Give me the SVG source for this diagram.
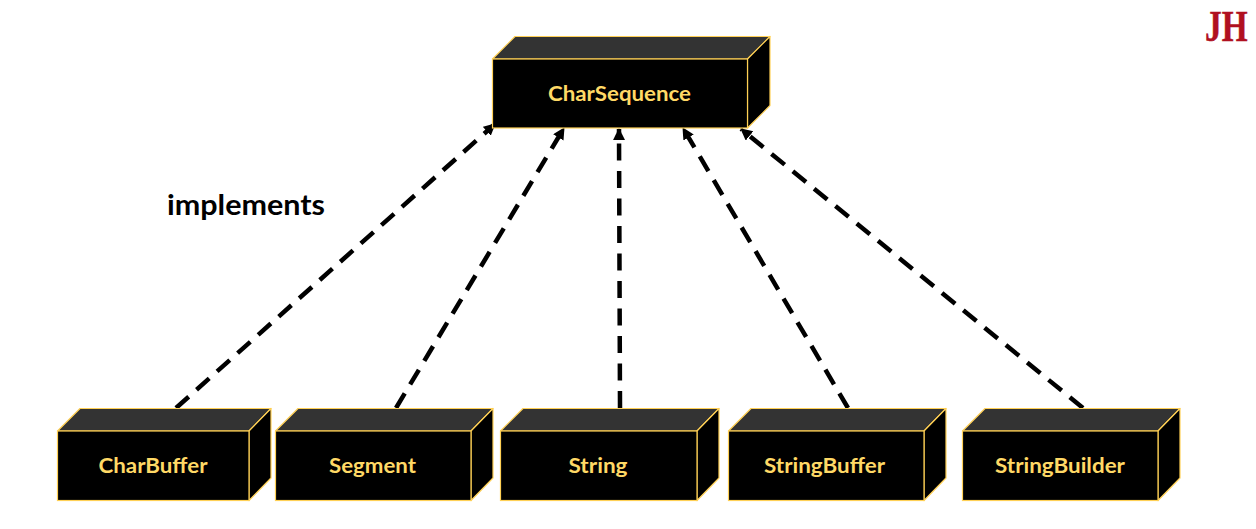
<svg xmlns="http://www.w3.org/2000/svg" width="1256" height="529" viewBox="0 0 1256 529">
<style>
.front{fill:#000;stroke:#ffd055;stroke-width:1.2}
.top{fill:#333;stroke:#ffd055;stroke-width:1.2;stroke-linejoin:round}
.side{fill:#000;stroke:#ffd055;stroke-width:1.2;stroke-linejoin:round}
.lbl{font-family:Lato,"Open Sans",sans-serif;font-weight:700;font-size:21px;fill:#ffd966;text-anchor:middle}
.conn{fill:none;stroke:#000;stroke-width:4.5;stroke-dasharray:17 10.500;marker-end:url(#arrow)}
</style>
<defs>
<marker id="arrow" markerUnits="userSpaceOnUse" markerWidth="14" markerHeight="14" refX="11" refY="6" orient="auto"><path d="M0 0L12 6L0 12Z" fill="#000"/></marker>
</defs>
<rect width="1256" height="529" fill="#fff"/>
<g id="connectors">
<path class="conn" d="M176 408L495 124"/>
<path class="conn" d="M396 408L564 128"/>
<path class="conn" d="M620 408L619 129"/>
<path class="conn" d="M848 408L683 128"/>
<path class="conn" d="M1083 408L741 129"/>
</g>
<g id="charsequence">
<path class="top" d="M492.5 59L515 36.500H770L747.500 59Z"/>
<path class="side" d="M747.500 59L770 36.500V105.500L747.500 128Z"/>
<rect class="front" x="492.500" y="59" width="255" height="69"/>
<text class="lbl" x="619.500" y="100.500" textLength="143" lengthAdjust="spacingAndGlyphs">CharSequence</text>
</g>
<g id="charbuffer">
<path class="top" d="M57.500 431L80 408.500H271L249 431Z"/>
<path class="side" d="M249 431L271 408.500V478L249 500.500Z"/>
<rect class="front" x="57.500" y="431" width="191.500" height="69.500"/>
<text class="lbl" x="153" y="473" textLength="109" lengthAdjust="spacingAndGlyphs">CharBuffer</text>
</g>
<g id="segment">
<path class="top" d="M275.500 431L298 408.500H493L471 431Z"/>
<path class="side" d="M471 431L493 408.500V478L471 500.500Z"/>
<rect class="front" x="275.500" y="431" width="195.500" height="69.500"/>
<text class="lbl" x="372.500" y="473" textLength="87" lengthAdjust="spacingAndGlyphs">Segment</text>
</g>
<g id="string">
<path class="top" d="M500.500 431L523 408.500H719L697 431Z"/>
<path class="side" d="M697 431L719 408.500V478L697 500.500Z"/>
<rect class="front" x="500.500" y="431" width="196.500" height="69.500"/>
<text class="lbl" x="598" y="473" textLength="59" lengthAdjust="spacingAndGlyphs">String</text>
</g>
<g id="stringbuffer">
<path class="top" d="M728.500 431L751 408.500H946L924 431Z"/>
<path class="side" d="M924 431L946 408.500V478L924 500.500Z"/>
<rect class="front" x="728.500" y="431" width="195.500" height="69.500"/>
<text class="lbl" x="824.500" y="473" textLength="121" lengthAdjust="spacingAndGlyphs">StringBuffer</text>
</g>
<g id="stringbuilder">
<path class="top" d="M962.500 431L985 408.500H1180L1158 431Z"/>
<path class="side" d="M1158 431L1180 408.500V478L1158 500.500Z"/>
<rect class="front" x="962.500" y="431" width="195.500" height="69.500"/>
<text class="lbl" x="1060" y="473" textLength="130" lengthAdjust="spacingAndGlyphs">StringBuilder</text>
</g>
<text id="implements" x="167" y="215" font-family="Lato,'Open Sans',sans-serif" font-weight="700" font-size="28" fill="#000" textLength="158" lengthAdjust="spacingAndGlyphs">implements</text>
<text id="logo" transform="translate(1205 41) scale(.74 1)" font-family="'Liberation Serif',serif" font-weight="700" font-size="45" fill="#b01020" stroke="#b01020" stroke-width="0.5">JH</text>
</svg>
